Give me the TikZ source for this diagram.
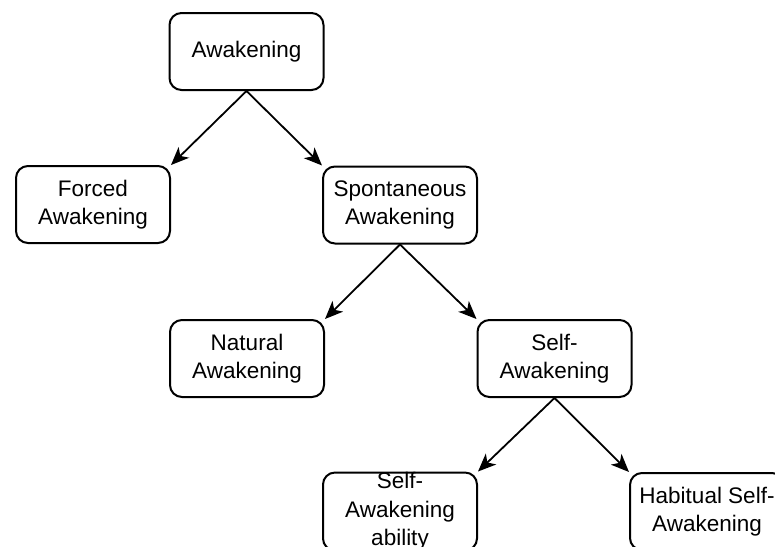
\documentclass[tikz,border=0pt]{standalone}
\usepackage{fontspec}
\setmainfont{Liberation Sans}
\usetikzlibrary{arrows.meta}
\tikzset{
  box/.style={draw=black, line width=2pt, rounded corners=12pt, minimum width=154pt, minimum height=77pt, inner sep=0pt, align=center, font=\fontsize{22.5}{28.5}\selectfont, fill=white},
  conn/.style={line width=1.8pt, -{Stealth[length=18pt,width=15pt,inset=5pt]}}
}
\begin{document}
\begin{tikzpicture}[x=1pt,y=-1pt]
\useasboundingbox (0,0) rectangle (775,546);
\clip (0,0) rectangle (775,546);
\fill[white] (0,0) rectangle (775,546);
\node[box] (a) at (246.5,51.5) {Awakening};
\node[box] (f) at (93,204.5) {Forced\\Awakening};
\node[box] (s) at (400,205) {Spontaneous\\Awakening};
\node[box] (n) at (247,358.5) {Natural\\Awakening};
\node[box] (sa) at (554.5,358.5) {Self-\\Awakening};
\node[box] (sab) at (400,511.5) {Self-\\Awakening\\ability};
\node[box] (h) at (707,511.5) {Habitual Self-\\Awakening};
\draw[conn] (a.south) -- (f.north east);
\draw[conn] (a.south) -- (s.north west);
\draw[conn] (s.south) -- (n.north east);
\draw[conn] (s.south) -- (sa.north west);
\draw[conn] (sa.south) -- (sab.north east);
\draw[conn] (sa.south) -- (h.north west);
\end{tikzpicture}
\end{document}
